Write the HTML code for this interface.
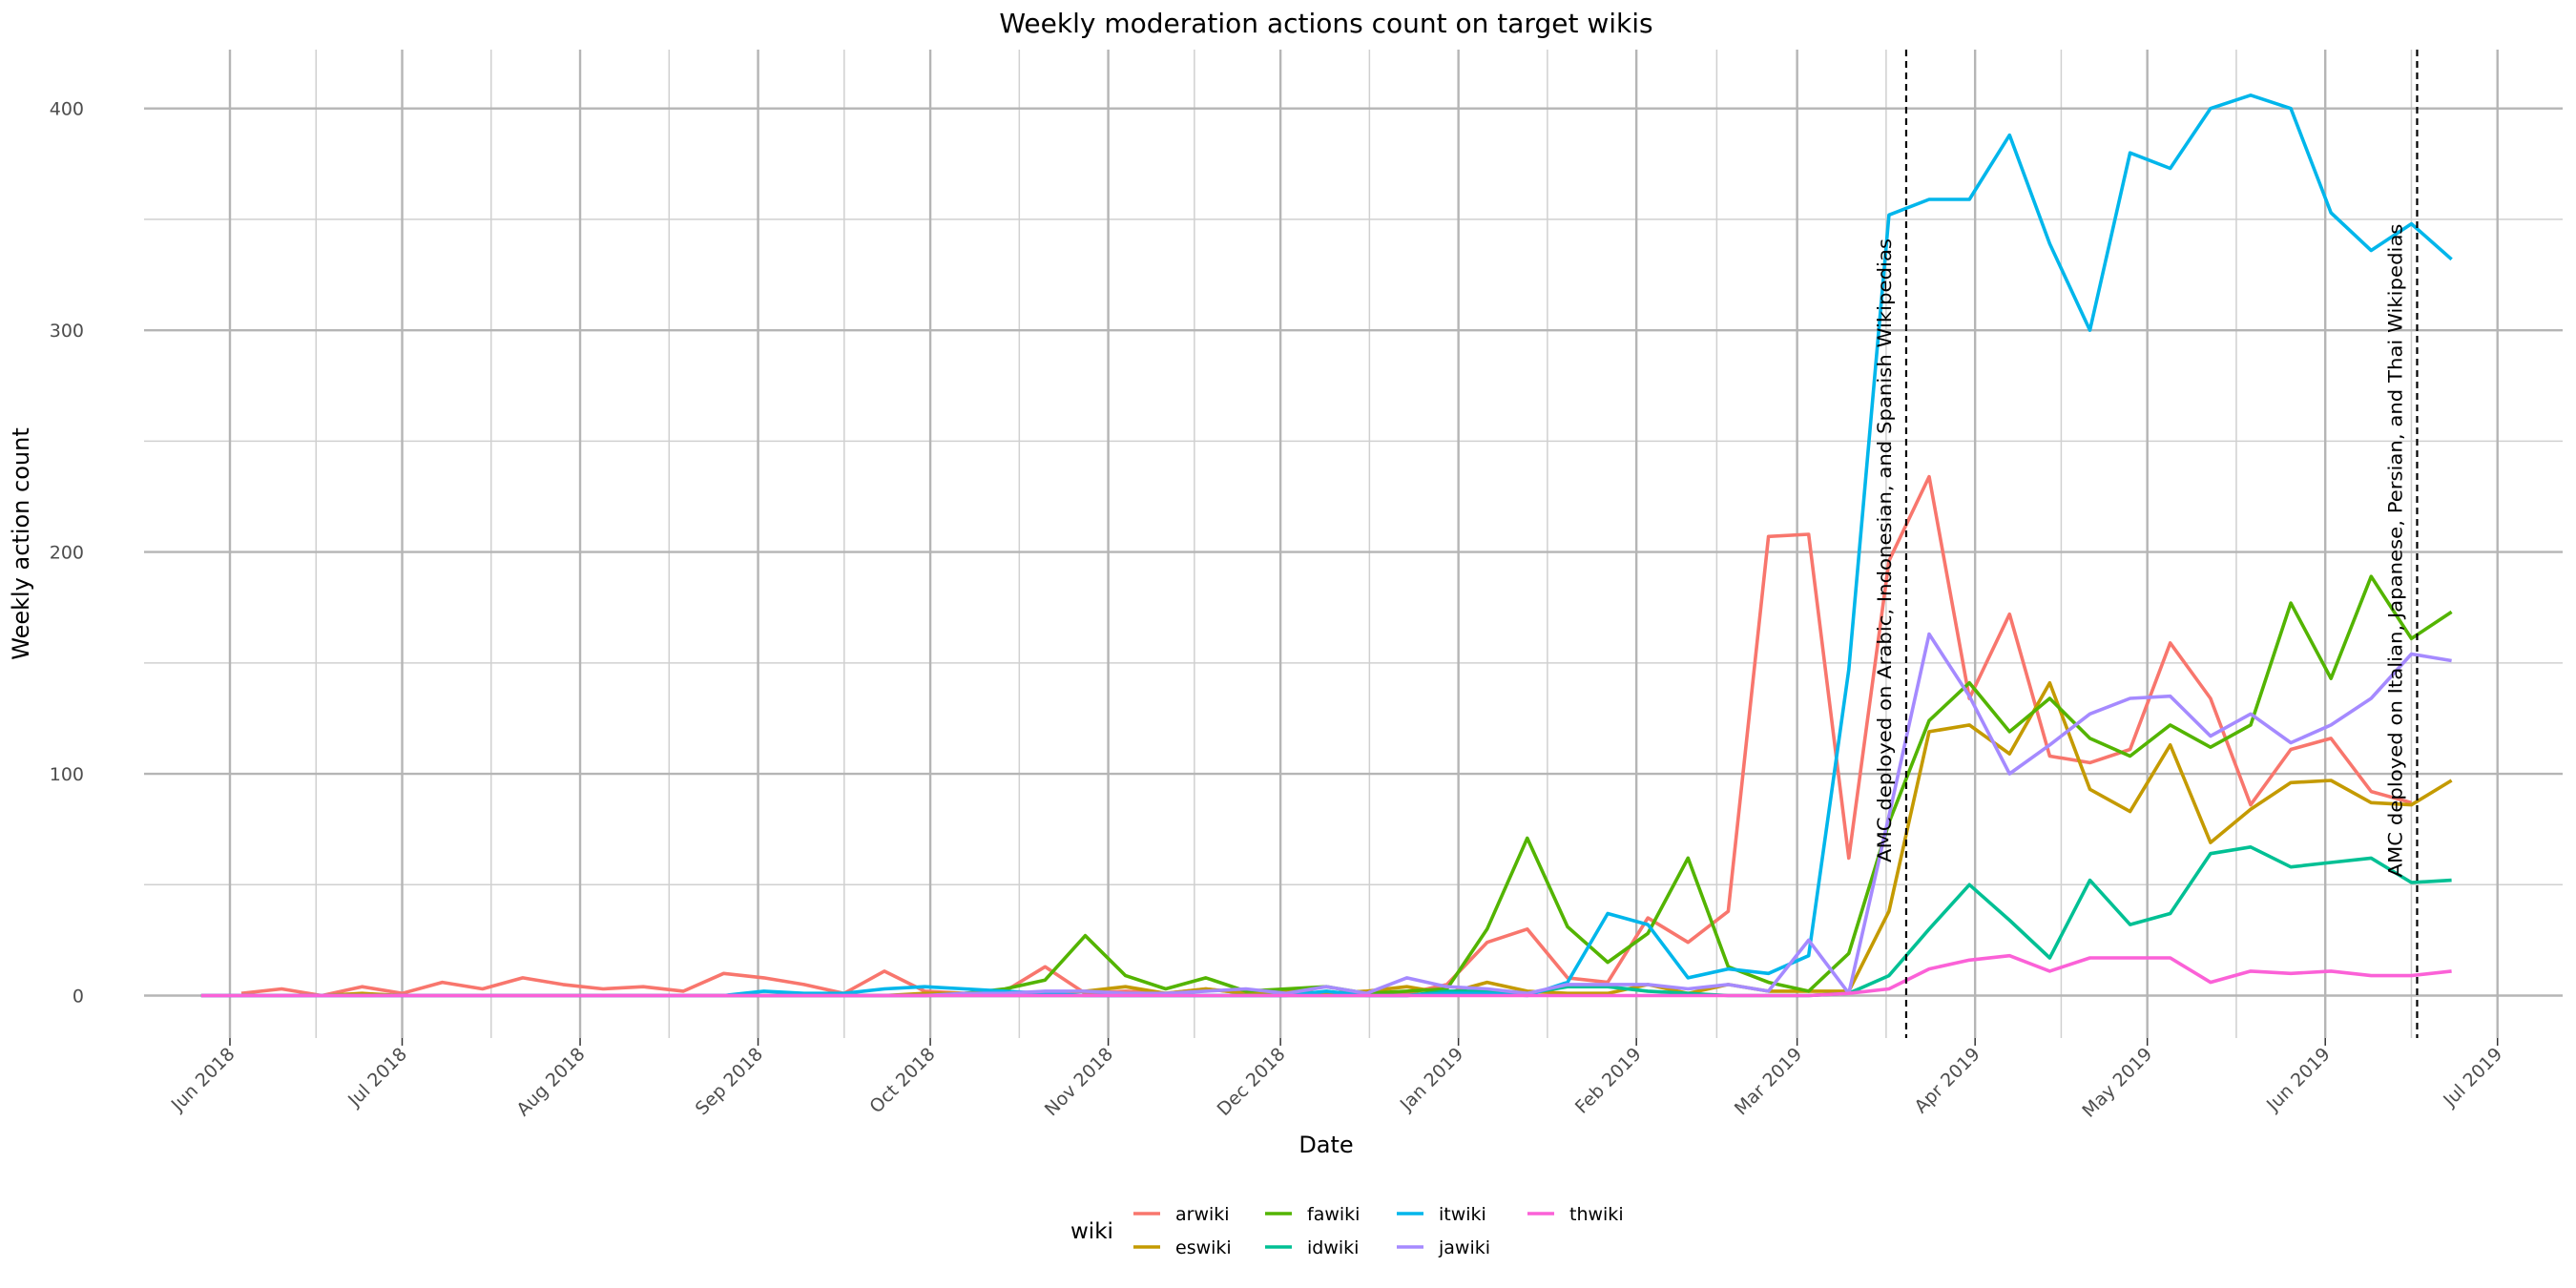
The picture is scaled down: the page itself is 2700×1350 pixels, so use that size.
<!DOCTYPE html>
<html><head><meta charset="utf-8"><title>Weekly moderation actions</title>
<style>html,body{margin:0;padding:0;background:#fff;}svg{display:block;font-family:"DejaVu Sans","Liberation Sans",sans-serif;}</style>
</head><body>
<svg id="chart" width="2700" height="1350" viewBox="0 0 2700 1350" xmlns="http://www.w3.org/2000/svg">
<g id="grid"></g>
<g id="series"></g>
<g id="annot"></g>
<g id="axes"></g>
<text x="1390" y="34" font-size="28" text-anchor="middle" fill="#000">Weekly moderation actions count on target wikis</text>
<text transform="translate(30,570) rotate(-90)" font-size="24" text-anchor="middle" fill="#000">Weekly action count</text>
<text x="1390" y="1208" font-size="24" text-anchor="middle" fill="#000">Date</text>
<g id="legend">
<text x="1122" y="1298" font-size="23" fill="#000">wiki</text>
</g>
</svg>
<script>
const wikis = ["arwiki","eswiki","fawiki","idwiki","itwiki","jawiki","thwiki"];
const colors = ["#F8766D","#C49A00","#53B400","#00C094","#00B6EB","#A58AFF","#FB61D7"];
// weeks starting 2018-05-27, one value per week (null = no data)
const arwiki = [null,1,3,0,4,1,6,3,8,5,3,4,2,10,8,5,1,11,2,1,2,13,1,2,1,3,1,2,1,2,1,5,24,30,8,6,35,24,38,207,208,62,196,234,134,172,108,105,111,159,134,86,111,116,92,87,null];
const eswiki = [0,0,0,0,1,0,0,0,0,0,0,0,0,0,0,0,0,0,1,1,1,1,2,4,1,3,1,2,1,2,4,1,6,2,1,1,5,1,5,2,2,2,38,119,122,109,141,93,83,113,69,84,96,97,87,86,97];
const fawiki = [0,0,0,0,0,0,0,0,0,0,0,0,0,0,0,0,0,0,0,1,3,7,27,9,3,8,2,3,4,1,2,3,30,71,31,15,28,62,13,6,2,19,78,124,141,119,134,116,108,122,112,122,177,143,189,161,173];
const idwiki = [0,0,0,0,0,0,0,0,0,0,0,0,0,0,0,0,0,0,0,0,0,0,0,0,0,0,0,0,0,0,0,2,2,1,4,4,2,1,0,0,0,1,9,30,50,34,17,52,32,37,64,67,58,60,62,51,52];
const itwiki = [0,0,0,0,0,0,0,0,0,0,0,0,0,0,2,1,1,3,4,3,2,1,0,0,0,0,0,0,2,0,0,1,1,0,6,37,32,8,12,10,18,147,352,359,359,388,339,300,380,373,400,406,400,353,336,348,332];
const jawiki = [0,0,0,0,0,0,0,0,0,0,0,0,0,0,0,0,0,0,0,1,1,2,2,1,1,2,3,1,4,1,8,4,3,1,5,5,5,3,5,2,25,1,81,163,135,100,113,127,134,135,117,127,114,122,134,154,151];
const thwiki = [0,0,0,0,0,0,0,0,0,0,0,0,0,0,0,0,0,0,0,0,0,0,0,0,0,0,0,0,0,0,0,0,0,0,0,0,0,0,0,0,0,1,3,12,16,18,11,17,17,17,6,11,10,11,9,9,11];
const seriesData = [arwiki,eswiki,fawiki,idwiki,itwiki,jawiki,thwiki];
const yTicks = [0,100,200,300,400];
const yMinor = [50,150,250,350];
const monthLabels = ["Jun 2018","Jul 2018","Aug 2018","Sep 2018","Oct 2018","Nov 2018","Dec 2018","Jan 2019","Feb 2019","Mar 2019","Apr 2019","May 2019","Jun 2019","Jul 2019"];
const vlineDates = ["2019-03-20","2019-06-17"];
const vlineLabels = ["AMC deployed on Arabic, Indonesian, and Spanish Wikipedias","AMC deployed on Italian, Japanese, Persian, and Thai Wikipedias"];
const startWeek = "2018-05-27";

const NS="http://www.w3.org/2000/svg";
const day0 = Date.UTC(2018,5,1);
function dayOf(s){const p=s.split("-").map(Number);return (Date.UTC(p[0],p[1]-1,p[2])-day0)/86400000;}
function xScale(d){return 241 + d*6.017;}
function yScale(v){return 1043.5 - v*2.3245;}
function mk(tag,attrs,parent){const e=document.createElementNS(NS,tag);for(const k in attrs)e.setAttribute(k,attrs[k]);parent.appendChild(e);return e;}
const grid=document.getElementById('grid'),ser=document.getElementById('series'),ann=document.getElementById('annot'),axes=document.getElementById('axes'),leg=document.getElementById('legend');
const L=151,R=2686,T=52,B=1088;
yMinor.forEach(v=>{const l=mk('line',{x1:L,x2:R,y1:yScale(v),y2:yScale(v),stroke:'#d0d0d0','stroke-width':1.5},grid);

});
const monthDays=[];for(let m=0;m<15;m++){const y=2018+Math.floor((4+m)/12),mo=(4+m)%12;monthDays.push((Date.UTC(y,mo,1)-day0)/86400000);}
for(let m=0;m<monthDays.length-1;m++){const d=(monthDays[m]+monthDays[m+1])/2;const x=xScale(d);if(x<L-2||x>R+2)continue;
const l=mk('line',{x1:x,x2:x,y1:T,y2:B,stroke:'#d0d0d0','stroke-width':1.5},grid);

}
yTicks.forEach(v=>{const l=mk('line',{x1:L,x2:R,y1:yScale(v),y2:yScale(v),stroke:'#b5b5b5','stroke-width':2.4},grid);


const t=mk('text',{x:88,y:yScale(v)+7,'font-size':19,'text-anchor':'end',fill:'#4d4d4d'},axes);t.textContent=v;

});
monthLabels.forEach((lab,i)=>{const x=xScale(monthDays[i+1]);
const l=mk('line',{x1:x,x2:x,y1:T,y2:B,stroke:'#b5b5b5','stroke-width':2.4},grid);


const tk=mk('line',{x1:x,x2:x,y1:B,y2:B+8,stroke:'#333','stroke-width':1.5},axes);


const t=mk('text',{transform:`translate(${x+6},${B+18}) rotate(-45)`,'font-size':19,'text-anchor':'end',fill:'#4d4d4d'},axes);t.textContent=lab;

});
const s0=dayOf(startWeek);
seriesData.forEach((arr,si)=>{let d='';let pen=false;arr.forEach((v,i)=>{if(v===null){pen=false;return;}const x=xScale(s0+7*i),y=yScale(v);d+=(pen?'L':'M')+x.toFixed(1)+','+y.toFixed(1);pen=true;});
const p=mk('path',{d:d,fill:'none',stroke:colors[si],'stroke-width':3.6,'stroke-linejoin':'round'},ser);

});
vlineDates.forEach((ds,i)=>{const x=xScale(dayOf(ds));
const l=mk('line',{x1:x,x2:x,y1:T,y2:B,stroke:'#000','stroke-width':2.2,'stroke-dasharray':'7,5'},ann);


const t=mk('text',{transform:`translate(${x-16},577) rotate(-90)`,'font-size':19.5,'text-anchor':'middle',fill:'#000',textLength:i==0?654:685,lengthAdjust:'spacingAndGlyphs'},ann);t.textContent=vlineLabels[i];

});
const colX=[1188,1326,1464,1601];const rowY=[1272,1307];
wikis.forEach((w,i)=>{const c=Math.floor(i/2),r=i%2;const x=colX[c],y=rowY[r];
const k=mk('line',{x1:x,x2:x+28,y1:y,y2:y,stroke:colors[i],'stroke-width':3.6},leg);


const t=mk('text',{x:x+44,y:y+7,'font-size':19,fill:'#000'},leg);t.textContent=w;

});
</script>
</body></html>
